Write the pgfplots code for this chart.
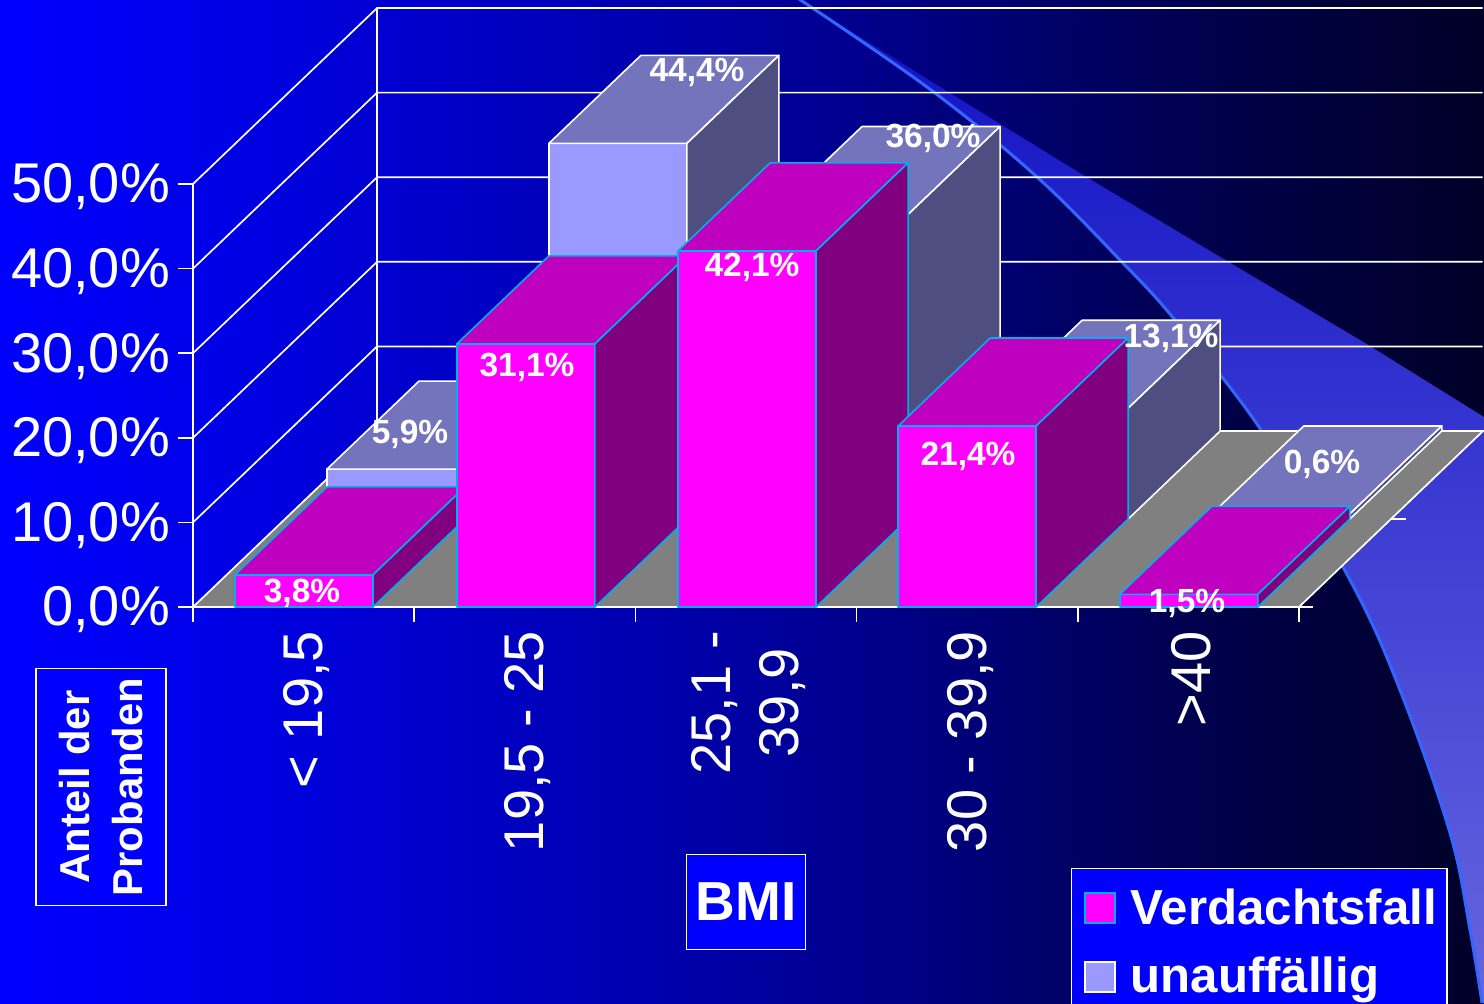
\documentclass[border=0pt]{standalone}
\usepackage{fontspec}
\setmainfont{Liberation Sans}
\usepackage{pgfplots}
\pgfplotsset{compat=1.18}
\definecolor{fuch}{HTML}{FF00FF}
\definecolor{fuchtop}{HTML}{BF00BF}
\definecolor{fuchside}{HTML}{800080}
\definecolor{edgecy}{HTML}{00B0E8}
\definecolor{lav}{HTML}{9999FF}
\definecolor{lavtop}{HTML}{7474BD}
\definecolor{lavside}{HTML}{4E4E80}
\definecolor{floorgray}{HTML}{808080}
\definecolor{swtop}{HTML}{1010C4}
\definecolor{swbot}{HTML}{6666E0}
\definecolor{swline}{HTML}{3366FF}
\definecolor{bga}{HTML}{0000FF}
\definecolor{bgb}{HTML}{0000F0}
\definecolor{bgc}{HTML}{0000A0}
\definecolor{bgd}{HTML}{000045}
\definecolor{bge}{HTML}{000028}
\pgfdeclarehorizontalshading{slidebg}{100bp}{
  color(0bp)=(bga);
  color(25bp)=(bga);
  color(30bp)=(bgb);
  color(50.3bp)=(bgc);
  color(67bp)=(bgd);
  color(75bp)=(bge);
  color(100bp)=(bge)}
\newcommand{\threedbar}[6]{%
 % #1 left x, #2 base x shift, #3 base y, #4 value, #5 prefix of colours, #6 edge colour
 \pgfmathsetmacro{\xa}{#1+#2}
 \pgfmathsetmacro{\xb}{\xa+0.6239}
 \pgfmathsetmacro{\ya}{#3}
 \pgfmathsetmacro{\yb}{#3+#4}
 \pgfmathsetmacro{\xc}{\xa+0.4159}
 \pgfmathsetmacro{\xd}{\xb+0.4159}
 \pgfmathsetmacro{\yc}{\ya+10.4}
 \pgfmathsetmacro{\yd}{\yb+10.4}
 \addplot[forget plot,fill=#5,draw=#6,line width=0.8pt,line join=round] coordinates {(\xa,\ya)(\xb,\ya)(\xb,\yb)(\xa,\yb)} -- cycle;
 \addplot[forget plot,fill=#5top,draw=#6,line width=0.8pt,line join=round] coordinates {(\xa,\yb)(\xb,\yb)(\xd,\yd)(\xc,\yd)} -- cycle;
 \addplot[forget plot,fill=#5side,draw=#6,line width=0.8pt,line join=round] coordinates {(\xb,\ya)(\xd,\yc)(\xd,\yd)(\xb,\yb)} -- cycle;
}
\begin{document}
\begin{tikzpicture}
\useasboundingbox (0,0) rectangle (742pt,501.5pt);
\clip (0,0) rectangle (742pt,501.5pt);
\shade[shading=slidebg] (0,0) rectangle (742pt,501.5pt);
\begin{scope}[yshift=501.5pt,x=0.5pt,y=-0.5pt]
  \shade[top color=swtop,bottom color=swbot]
    (799,-1) -- (945,90) -- (1083,175) -- (1222,258) -- (1365,343) -- (1484,417) -- (1484,1003) -- (1482,1003)
    -- plot[smooth,tension=0.6] coordinates {(1482,1003)(1470,930)(1450,833)(1400,690)(1350,580)(1261,430)(1175,320)(1120,260)(1037,177)(931,90)(799,-1)};
  \draw[swline,line width=1.5pt]
    plot[smooth,tension=0.6] coordinates {(799,-1)(931,90)(1037,177)(1120,260)(1175,320)(1261,430)(1350,580)(1400,690)(1450,833)(1470,930)(1482,1003)};
\end{scope}
\begin{axis}[
  at={(96.5pt,198pt)},anchor=south west,
  scale only axis,width=553pt,height=211.5pt,
  xmin=0,xmax=5,ymin=0,ymax=50,clip=false,
  axis x line*=bottom,axis y line*=left,
  axis line style={white,line width=0.85pt,-},
  tick style={white,line width=0.85pt},
  tick align=outside,major tick length=7.5pt,
  xtick={0,1,2,3,4,5},x tick label as interval,
  xticklabels={{< 19,5},{19,5 - 25},{25,1 -\\ 39,9},{30 - 39,9},{>40}},
  ytick={0,10,20,30,40,50},
  yticklabels={{0,0\%},{10,0\%},{20,0\%},{30,0\%},{40,0\%},{50,0\%}},
  tick label style={text=white,font=\fontsize{28}{34}\selectfont},
  y tick label style={yshift=-1.5pt,xshift=-0.5pt},
  x tick label style={rotate=90,anchor=east,align=center,yshift=-1.5pt,xshift=-1pt},
  xlabel={BMI},
  xlabel style={at={(axis description cs:0.5,-0.697)},anchor=center,text=white,fill=blue,draw=white,line width=0.7pt,
    minimum width=59.5pt,minimum height=47.5pt,inner sep=0pt,font=\bfseries\fontsize{27.5}{32}\selectfont},
  ylabel={Anteil der\\Probanden},
  ylabel style={at={(axis description cs:-0.0832,-0.4255)},anchor=center,rotate=0,text=white,fill=blue,draw=white,line width=0.7pt,
    align=center,minimum width=118.5pt,minimum height=65pt,inner sep=0pt,font=\bfseries\fontsize{20.9}{26.5}\selectfont},
  legend style={at={(axis description cs:0.7939,-0.617)},anchor=north west,fill=blue,draw=white,line width=0.7pt,
    text=white,font=\bfseries\fontsize{24.6}{29}\selectfont,inner xsep=3pt,inner ysep=8pt,
    row sep=11pt,column sep=5.5pt,legend cell align=left},
  legend image code/.code={\path[draw=none,fill=none] (0pt,0pt) -- (3.5pt,0pt);\draw[#1] (3.5pt,-7.5pt) rectangle (18.5pt,7.5pt);},
]
% walls and floor
\addplot[forget plot,white,line width=0.85pt] coordinates {(0,10)(0.832,30.8)(5.83,30.8)};
\addplot[forget plot,white,line width=0.85pt] coordinates {(0,20)(0.832,40.8)(5.83,40.8)};
\addplot[forget plot,white,line width=0.85pt] coordinates {(0,30)(0.832,50.8)(5.83,50.8)};
\addplot[forget plot,white,line width=0.85pt] coordinates {(0,40)(0.832,60.8)(5.83,60.8)};
\addplot[forget plot,white,line width=0.85pt] coordinates {(0,50)(0.832,70.8)(5.83,70.8)};
\addplot[forget plot,white,line width=0.85pt] coordinates {(0.832,20.8)(0.832,70.8)};
\addplot[forget plot,fill=floorgray,draw=white,line width=0.85pt] coordinates {(0,0)(5,0)(5.832,20.8)(0.832,20.8)} -- cycle;
\addplot[forget plot,white,line width=0.85pt] coordinates {(5,0)(5.063,0)};
\addplot[forget plot,white,line width=0.85pt] coordinates {(5.41,10.4)(5.485,10.4)};
% unauffaellig (back row)
\threedbar{0.19}{0.4159}{10.4}{5.9}{lav}{white}
\threedbar{1.193}{0.4159}{10.4}{44.4}{lav}{white}
\threedbar{2.193}{0.4159}{10.4}{36.0}{lav}{white}
\threedbar{3.188}{0.4159}{10.4}{13.1}{lav}{white}
\threedbar{4.19}{0.4159}{10.4}{0.6}{lav}{white}
% Verdachtsfall (front row)
\threedbar{0.19}{0}{0}{3.8}{fuch}{edgecy}
\threedbar{1.193}{0}{0}{31.1}{fuch}{edgecy}
\threedbar{2.193}{0}{0}{42.1}{fuch}{edgecy}
\threedbar{3.188}{0}{0}{21.4}{fuch}{edgecy}
\threedbar{4.19}{0}{0}{1.5}{fuch}{edgecy}
\addlegendimage{fill=fuch,draw=edgecy,line width=0.9pt}
\addlegendentry{Verdachtsfall}
\addlegendimage{fill=lav,draw=white,line width=0.9pt}
\addlegendentry{unauffällig}
\end{axis}
\begin{scope}[yshift=501.5pt,x=0.5pt,y=-0.5pt,every node/.style={text=white,font=\bfseries\fontsize{16.75}{20}\selectfont,inner sep=0pt}]
\node at (302,593) {3,8\%};
\node at (527,367) {31,1\%};
\node at (752,267) {42,1\%};
\node at (968,456) {21,4\%};
\node at (1187,603) {1,5\%};
\node at (410,434) {5,9\%};
\node at (697,72) {44,4\%};
\node at (933,138) {36,0\%};
\node at (1171,338) {13,1\%};
\node at (1322,464) {0,6\%};
\end{scope}
\end{tikzpicture}
\end{document}
